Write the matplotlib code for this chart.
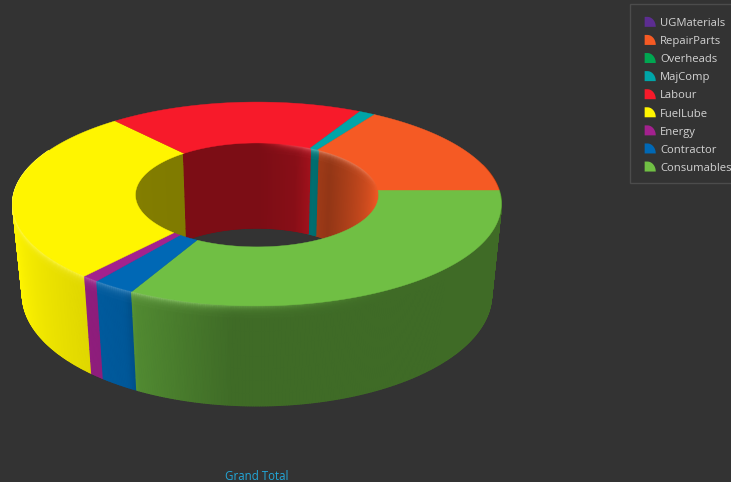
import numpy as np
import matplotlib
matplotlib.use('Agg')
import matplotlib.pyplot as plt
from matplotlib.collections import PolyCollection
from matplotlib.legend_handler import HandlerPatch
from matplotlib.patches import Patch, Polygon, Rectangle

# Shares in percent, in drawing order (clockwise from 3 o'clock)
categories = ['Consumables', 'Contractor', 'Energy', 'FuelLube', 'Labour',
              'MajComp', 'Overheads', 'RepairParts', 'UGMaterials']
shares = [32.5, 2.5, 1.0, 27.8, 19.1, 1.2, 0.0, 15.9, 0.0]
colors = ['#70bf44', '#0068b5', '#a3218e', '#fff500', '#f71a2a',
          '#00a5a8', '#00a651', '#f55a24', '#5c2d91']
legend_order = ['UGMaterials', 'RepairParts', 'Overheads', 'MajComp', 'Labour',
                'FuelLube', 'Energy', 'Contractor', 'Consumables']
title = 'Grand Total'

BG = '#333333'
CX, CY = 257, 190
RX = 242
HOLE = 0.5


def project(theta, radius):
    """Perspective projection of a point on the top face, theta in degrees."""
    t = np.radians(theta)
    tilt, ry = (0.137, 100) if radius == 1 else (0.19, 103)
    s = 1 - tilt * radius * np.sin(t)
    return CX + RX * radius * np.cos(t) / s, CY + ry * radius * np.sin(t) / s


def drop(x, y, z):
    """Move a top-face point down the wall, z runs from 0 (top) to 1 (bottom)."""
    height = 85 + (y - 143) * 15 / 164
    return CX + (x - CX) * (1 - 0.04 * z), y + height * z


def wedge_color(theta, edges):
    idx = np.searchsorted(edges, theta % 360, side='right') - 1
    return np.array(matplotlib.colors.to_rgb(colors[min(idx, len(colors) - 1)]))


def wall(ax, radius, start, stop, knots, tones, glow, edges, front_last=True):
    """Wall of the ring as a mesh of small shaded quads with a lit top rim."""
    thetas = np.arange(start, stop, 0.5)
    zs = np.concatenate([np.linspace(0, 0.1, 9), np.linspace(0.13, 1, 8)])
    # quads nearest the viewer go last so the wall folds behind itself correctly
    strips = sorted(zip(thetas[:-1], thetas[1:]), key=lambda p: np.sin(np.radians(p[0])),
                    reverse=not front_last)
    polys, fills = [], []
    for a, b in strips:
        base = wedge_color((a + b) / 2, edges)
        tone = np.interp((a + b) / 2, knots, tones)
        lift = np.interp((a + b) / 2, knots, glow)
        xa, ya = project(a, radius)
        xb, yb = project(b, radius)
        for z0, z1 in zip(zs[:-1], zs[1:]):
            p = [drop(xa, ya, z0), drop(xb, yb, z0), drop(xb, yb, z1), drop(xa, ya, z1)]
            rim = np.exp(-(z0 + z1) / 2 / 0.035) * min(1, lift * 6)
            face = base * tone
            lit = base + (1 - base) * lift
            polys.append(p)
            fills.append(np.clip(face * (1 - rim) + lit * rim, 0, 1))
    ax.add_collection(PolyCollection(polys, facecolors=fills, edgecolors=fills, linewidths=1.0))


def top_face(ax, edges):
    for i, color in enumerate(colors):
        if shares[i] == 0:
            continue
        t = np.linspace(edges[i], edges[i + 1], 200)
        xo, yo = project(t, 1)
        xi, yi = project(t[::-1], HOLE)
        ax.fill(np.r_[xo, xi], np.r_[yo, yi], color=color, lw=0.3, zorder=3)


class QuarterPie(HandlerPatch):
    """Small pie slice used as the legend key."""

    def create_artists(self, legend, orig_handle, xdescent, ydescent, width, height, fontsize, trans):
        t = np.linspace(0, np.pi / 2, 12)
        w, h = 8, 7.2
        pts = np.r_[[[0, 0], [0, h], [2, h]], np.c_[2 + (w - 2) * np.sin(t), h * np.cos(t)]]
        pts = pts + [1.8 - xdescent, -0.5 - ydescent]
        return [Polygon(pts, closed=True, facecolor=orig_handle.get_facecolor(),
                        edgecolor='none', transform=trans)]


fig = plt.figure(figsize=(7.31, 4.82), dpi=100, facecolor=BG)
ax = fig.add_axes([0, 0, 1, 1], facecolor=BG)
ax.set_xlim(0, 731)
ax.set_ylim(482, 0)
ax.axis('off')

edges = np.r_[0, np.cumsum(shares) * 3.6]

# front of the outer wall, then the back of the hole, then the flat top
wall(ax, 1, -15, 205,
     [-15, 60, 95, 116, 119, 130, 145, 165, 205],
     [0.56, 0.56, 0.56, 0.72, 0.84, 0.88, 0.93, 1.0, 1.0],
     [0, 0, 0.12, 0.28, 0.3, 0.3, 0.3, 0.3, 0.3], edges)
wall(ax, HOLE, 170, 361,
     [170, 229, 270, 290, 300, 310, 335, 355, 361],
     [0.52, 0.50, 0.50, 0.55, 0.67, 0.60, 0.80, 0.97, 0.97],
     [0.0, 0.0, 0.0, 0.2, 0.4, 0.35, 0.3, 0.1, 0.0], edges, front_last=False)
top_face(ax, edges)

ax.text(257, 476, title, color='#22a7d8', fontsize=8.3, family='Open Sans', ha='center', va='center')

# legend box runs off the right side of the figure
ax.add_patch(Rectangle((630, 4), 110, 179, facecolor=BG, edgecolor='#4c4c4c', linewidth=1, zorder=4))
colors_by_name = dict(zip(categories, colors))
handles = [Patch(facecolor=colors_by_name[name], label=name) for name in legend_order]
leg = ax.legend(handles=handles, loc='upper left', bbox_to_anchor=(630 / 731, 1 - 6 / 482),
                frameon=False, prop={'family': 'Open Sans', 'size': 8.1},
                labelcolor='#d2d2d2', labelspacing=0.63, handlelength=1.1, handletextpad=0.5,
                borderpad=1.08, borderaxespad=0, handler_map={Patch: QuarterPie()})
leg.set_zorder(5)

fig.savefig('out.png', dpi=100, facecolor=BG)
